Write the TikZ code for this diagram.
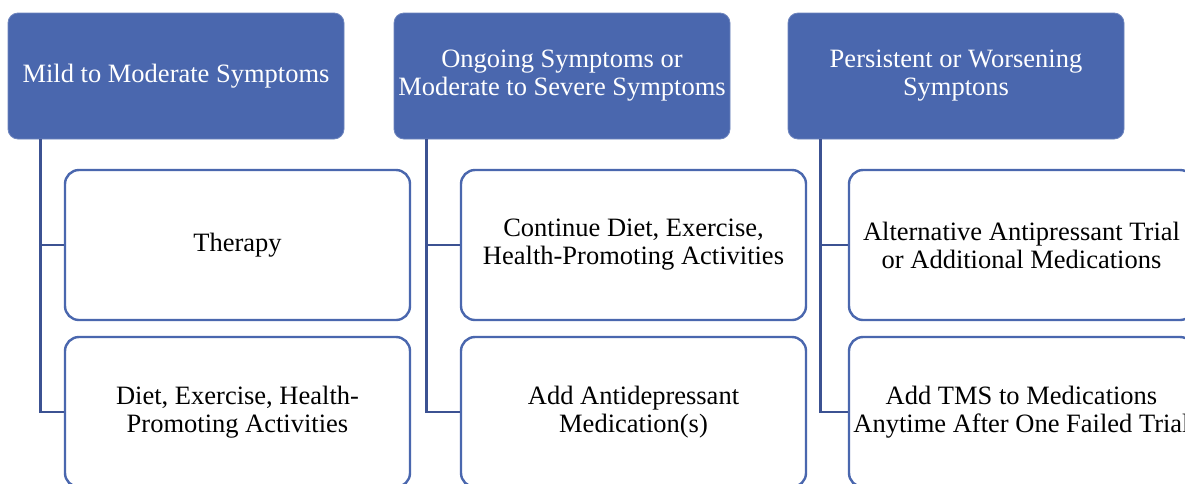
\documentclass[tikz,border=0pt]{standalone}
\usepackage{fontspec}
\setmainfont{Liberation Serif}
\usepackage{tikz}
\usetikzlibrary{positioning, calc}
\usepackage{xcolor}
\definecolor{HeadBlue}{RGB}{74,103,174}
\definecolor{LinkBlue}{RGB}{60,82,146}
\tikzstyle{Head} = [
draw=HeadBlue!80!white, line width=0.8pt, fill=HeadBlue, text=white,
rounded corners=10pt, minimum width=336pt, minimum height=126pt,
align=center, font=\fontsize{26.5}{28}\selectfont]
\tikzstyle{Item} = [
draw=HeadBlue, line width=2.4pt, fill=white, text=black,
rounded corners=14pt, minimum width=345pt, minimum height=150pt,
align=center, font=\fontsize{26.5}{28}\selectfont]
\tikzstyle{Link} = [
draw=LinkBlue, line width=2.4pt]

\begin{document}
\begin{tikzpicture}[x=1pt, y=-1pt]
    \clip (0,0) rectangle (1185,483);
    \fill[white] (0,0) rectangle (1185,483);

    % top row
    \node[Head] (h1) at (176,76) {Mild to Moderate Symptoms};
    \node[Head] (h2) at (562,76) {Ongoing Symptoms or\\Moderate to Severe Symptoms};
    \node[Head] (h3) at (956,76) {Persistent or Worsening\\Symptons};

    % first column
    \node[Item] (c11) at (237.5,245) {Therapy};
    \node[Item] (c12) at (237.5,412) {Diet, Exercise, Health-\\Promoting Activities};

    % second column
    \node[Item] (c21) at (633.5,245) {Continue Diet, Exercise,\\Health-Promoting Activities};
    \node[Item] (c22) at (633.5,412) {Add Antidepressant\\Medication(s)};

    % third column
    \node[Item] (c31) at (1021.5,245) {Alternative Antipressant Trial\\or Additional Medications};
    \node[Item] (c32) at (1021.5,412) {Add TMS to Medications\\Anytime After One Failed Trial};

    \draw[Link] ([xshift=33pt]h1.south west) |- (c12.west);
    \draw[Link] ([xshift=33pt]h1.south west) |- (c11.west);
    \draw[Link] ([xshift=33pt]h2.south west) |- (c22.west);
    \draw[Link] ([xshift=33pt]h2.south west) |- (c21.west);
    \draw[Link] ([xshift=33pt]h3.south west) |- (c32.west);
    \draw[Link] ([xshift=33pt]h3.south west) |- (c31.west);
\end{tikzpicture}
\end{document}
